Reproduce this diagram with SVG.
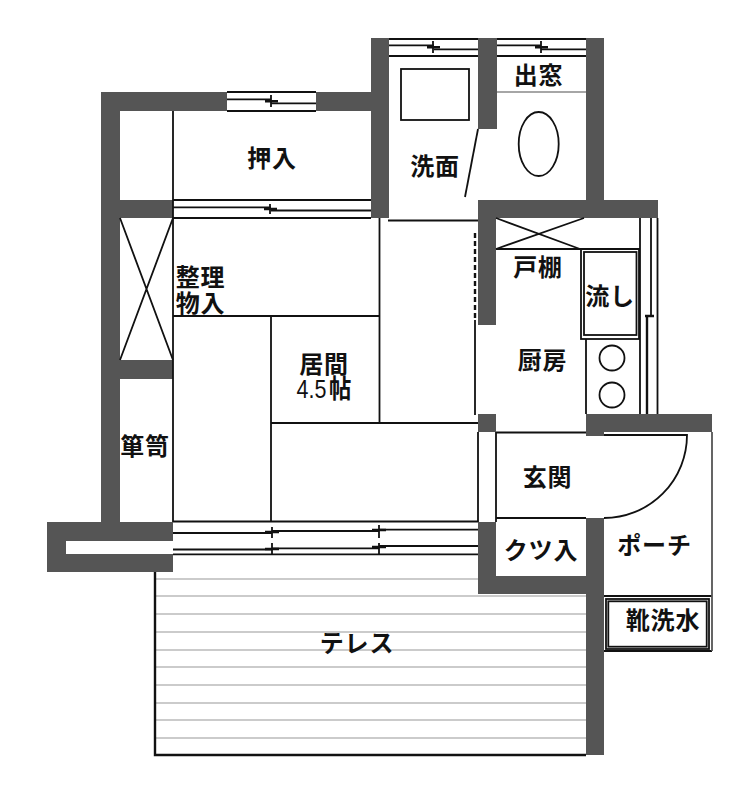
<svg xmlns="http://www.w3.org/2000/svg" width="745" height="787" viewBox="0 0 745 787">
<style>
.w{fill:#555}
.l{stroke:#111;stroke-width:1.8;fill:none}
.t{stroke:#111;stroke-width:2.4;fill:none}
.g{stroke:#bbb;stroke-width:1.4;fill:none}
text{font-family:"Noto Sans CJK JP","Noto Sans CJK SC",sans-serif;font-weight:700;font-size:24px;letter-spacing:.8px;fill:#111;text-anchor:middle}
</style>
<rect width="745" height="787" fill="#fff"/>
<g id="terrace">
<path class="g" d="M155 579H478M155 596H586M155 614H586M155 632H586M155 650H586M155 667H586M155 685H586M155 703H586M155 720H586M155 738H586"/>
<path class="t" d="M155 572V755H586"/>
</g>
<g id="walls">
<path class="w" d="M371 38H389V218H371V111H316V92H371ZM227 92V111H120V200H173V218H120V360H173V379H120V522H173V541H66V554H173V572H47V522H101V92ZM478 38H497V129H478ZM586 38H604V200H658V218H496V325H478V200H586ZM478 414H496V432H478ZM586 414H712V432H604V436H586ZM478 522H496V576H586V518H604V755H586V594H478Z"/>
</g>
<g id="connectors">
<path class="l" d="M389 39H478M389 45.300H434M434 49.300H478M389 56H478M433 41V53M497 39H586M497 45.300H541M541 49.300H586M497 56H586M541 41V53"/>
<path class="l" d="M227 92H316M227 99.300H271M271 103.300H316M227 111H316M271 95V107"/>
<path class="l" d="M173 111V522M173 200H371M173 207.300H271M271 210.500H371M173 218H371M270 204V214"/>
<path class="l" d="M120 218L173 360M173 218L120 360"/>
<path class="l" d="M173 316H379M271 316V522M379.500 218V423M271 423H478M173 521.500H478M388 220.500H478"/>
<path class="l" d="M173 533H272M272 531H379M379 529.700H478M173 549.500H272M272 548.300H379M379 546H478M173 554.300H478M272 527V538M272 543V554M379 525V538M379 543V554"/>
<path class="t" d="M427 47.300H440M535 47.300H548M265 101.300H278M264 209H277M265 532H279M265 549H279M372 530H386M372 547H386M645 316H654"/>
<path class="t" stroke-dasharray="5 3" d="M475 233V320"/>
<path class="l" d="M475 320V415"/>
<path class="l" d="M496 218L580 249M584 218L496 249M496 249H640"/>
<path class="l" d="M640 218V414M657.500 218V414M651 218V316"/>
<path class="t" d="M647 316V414"/>
<path class="l" d="M586 339V414M478 432V522M496 432V522M496 432.500H586M496 518H586"/>
<path class="l" d="M604 435H687A83 83 0 0 1 604 518M604 596H712M604 651H712"/>
<path class="l" style="stroke:#555" d="M712 432V651"/>
<path class="l" style="stroke:#888;stroke-width:1.400" d="M497 92H586"/>
<path class="l" d="M478 129L465 197"/>
</g>
<g id="fixtures">
<rect class="l" x="401" y="69" width="68" height="51"/>
<ellipse class="l" cx="538.700" cy="144" rx="20" ry="32"/>
<rect class="l" x="581" y="249" width="58" height="90"/>
<rect class="l" x="584" y="252" width="52.500" height="83"/>
<circle class="l" cx="612" cy="358" r="12.500"/>
<circle class="l" cx="612" cy="395" r="12.500"/>
<rect class="l" x="606" y="599" width="103" height="50"/>
<rect class="l" x="608.300" y="601.300" width="98.400" height="45.400"/>
</g>
<g id="labels">
<text x="272" y="167">押入</text>
<text x="435" y="175">洗面</text>
<text x="538.500" y="84">出窓</text>
<text x="538" y="276">戸棚</text>
<text x="610" y="305">流し</text>
<text x="542.500" y="369">厨房</text>
<text x="200.500" y="286">整理<tspan x="200.500" y="312">物入</tspan></text>
<text x="324" y="373">居間</text>
<text transform="translate(324 398) scale(.86 1)" style="font-family:'Liberation Sans','Noto Sans CJK JP',sans-serif;font-weight:400;font-size:25px;letter-spacing:0">4.5<tspan dx="3" style="font-family:'Noto Sans CJK JP',sans-serif;font-weight:700;font-size:26px">帖</tspan></text>
<text x="145" y="455">箪笥</text>
<text x="547.500" y="486">玄関</text>
<text x="541" y="559">クツ入</text>
<text x="654.500" y="554">ポーチ</text>
<text x="663" y="629">靴洗水</text>
<text x="357" y="652">テレス</text>
</g>
</svg>
